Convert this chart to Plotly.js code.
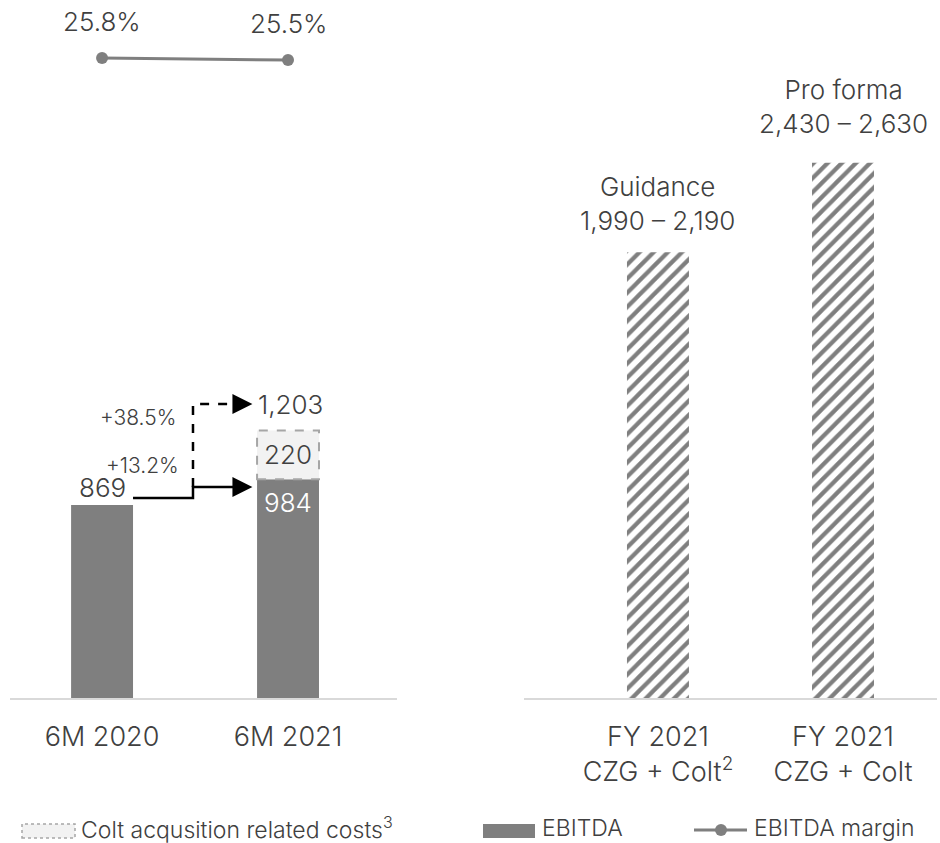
<!DOCTYPE html>
<html>
<head>
<meta charset="utf-8">
<script src="https://cdn.plot.ly/plotly-3.0.1.min.js"></script>
<style>
  html, body { margin: 0; padding: 0; background: #ffffff; }
  #chart { width: 940px; height: 843px; }
</style>
</head>
<body>
<div id="chart"></div>
<script>
// Half-year EBITDA
const halfYears = ['6M 2020', '6M 2021'];
const ebitda = [869, 984];
const coltCosts = [null, 220];
const adjustedEbitda = 1203;
const growthReported = 13.2;
const growthAdjusted = 38.5;
const marginPct = [25.8, 25.5];

// Full-year outlook
const fyCategories = ['FY 2021<br>CZG + Colt<sup>2</sup>', 'FY 2021<br>CZG + Colt'];
const fyNames = ['Guidance', 'Pro forma'];
const fyLow = [1990, 2430];
const fyHigh = [2190, 2630];

const W = 940, H = 843;
const FONT = 'Inter, "Open Sans", sans-serif';
const TEXT = '#404040';
const BAR = '#7f7f7f';
const fmt = v => v.toLocaleString('en-US');
const px = x => x / W;          // pixel -> paper x
const py = y => 1 - y / H;      // pixel -> paper y
const f = (size, color) => ({ family: FONT, size: size, color: color || TEXT, weight: 300 });

const barW = 0.333;

const traces = [
  {
    type: 'bar', name: 'EBITDA',
    x: halfYears, y: ebitda,
    xaxis: 'x', yaxis: 'y',
    width: barW,
    marker: { color: BAR },
    hoverinfo: 'skip'
  },
  {
    type: 'bar', name: 'Colt acqusition related costs',
    x: [halfYears[1]], y: [coltCosts[1]], base: [ebitda[1]],
    xaxis: 'x', yaxis: 'y',
    width: barW,
    marker: { color: '#f2f2f2' },
    hoverinfo: 'skip'
  },
  {
    type: 'bar', name: 'FY 2021',
    x: fyCategories, y: fyHigh,
    xaxis: 'x2', yaxis: 'y3',
    width: 0.335,
    marker: {
      color: '#ffffff',
      pattern: { shape: '/', fgcolor: BAR, bgcolor: '#ffffff', size: 10, solidity: 0.42 }
    },
    hoverinfo: 'skip'
  },
  {
    type: 'scatter', name: 'EBITDA margin',
    x: halfYears, y: marginPct,
    xaxis: 'x', yaxis: 'y2',
    mode: 'lines+markers',
    line: { color: BAR, width: 3 },
    marker: { color: BAR, size: 12 },
    cliponaxis: false,
    hoverinfo: 'skip'
  }
];

// connector levels (value units on the left axis)
const yStart = ebitda[0] + 31;
const yStep = ebitda[1] - 34;
const yDash = adjustedEbitda + 120;
const xStep = 0.489;
const xTip = 1 - barW / 2 - 0.025;

const shapes = [
  // dashed outline of the acquisition-cost segment
  {
    type: 'rect', xref: 'x', yref: 'y',
    x0: 1 - barW / 2, x1: 1 + barW / 2,
    y0: ebitda[1], y1: ebitda[1] + coltCosts[1],
    line: { color: '#a6a6a6', width: 2, dash: 'dash' },
    fillcolor: 'rgba(0,0,0,0)'
  },
  // reported growth connector
  {
    type: 'path', xref: 'x', yref: 'y',
    path: `M ${barW / 2} ${yStart} L ${xStep} ${yStart} L ${xStep} ${yStep} L ${xTip - 0.05} ${yStep}`,
    line: { color: '#000000', width: 2.5 }
  },
  // adjusted growth connector
  {
    type: 'path', xref: 'x', yref: 'y',
    path: `M ${xStep} ${yStep} L ${xStep} ${yDash} L ${xTip - 0.06} ${yDash}`,
    line: { color: '#000000', width: 2.5, dash: 'dash' }
  },
  // legend marks
  {
    type: 'rect', xref: 'paper', yref: 'paper',
    x0: px(22), x1: px(75), y0: py(838), y1: py(824),
    fillcolor: '#f2f2f2', line: { color: '#a6a6a6', width: 1.5, dash: 'dot' }
  },
  {
    type: 'rect', xref: 'paper', yref: 'paper',
    x0: px(483), x1: px(535), y0: py(838), y1: py(824),
    fillcolor: BAR, line: { width: 0 }
  },
  {
    type: 'line', xref: 'paper', yref: 'paper',
    x0: px(694), x1: px(747), y0: py(830), y1: py(830),
    line: { color: BAR, width: 3 }
  },
  {
    type: 'circle', xref: 'paper', yref: 'paper',
    x0: px(715), x1: px(727), y0: py(836), y1: py(824),
    fillcolor: BAR, line: { width: 0 }
  }
];

const ann = (o) => Object.assign({ showarrow: false, font: f(26) }, o);

const annotations = [
  ann({ xref: 'x', yref: 'y', x: halfYears[0], y: ebitda[0], yanchor: 'bottom', yshift: 0,
        text: fmt(ebitda[0]) }),
  ann({ xref: 'x', yref: 'y', x: halfYears[1], y: ebitda[1], yanchor: 'top', yshift: -6,
        text: fmt(ebitda[1]), font: f(26, '#ffffff') }),
  ann({ xref: 'x', yref: 'y', x: halfYears[1], y: ebitda[1] + coltCosts[1] / 2, yanchor: 'middle',
        text: fmt(coltCosts[1]) }),
  ann({ xref: 'x', yref: 'y', x: xTip + 0.02, y: yDash, xanchor: 'left', yanchor: 'middle',
        text: fmt(adjustedEbitda) }),
  ann({ xref: 'x', yref: 'y', x: 0.425, y: yStep + 95, xanchor: 'right', yanchor: 'middle',
        text: '+' + growthReported.toFixed(1) + '%', font: f(21) }),
  ann({ xref: 'x', yref: 'y', x: 0.41, y: yDash - 62, xanchor: 'right', yanchor: 'middle',
        text: '+' + growthAdjusted.toFixed(1) + '%', font: f(21) }),
  // arrow heads
  { xref: 'x', yref: 'y', x: xTip, y: yStep, ax: -18, ay: 0, text: '', showarrow: true,
    arrowhead: 2, arrowsize: 1.6, arrowwidth: 2.5, arrowcolor: '#000000', standoff: 0 },
  { xref: 'x', yref: 'y', x: xTip, y: yDash, ax: -18, ay: 0, text: '', showarrow: true,
    arrowhead: 2, arrowsize: 1.6, arrowwidth: 2.5, arrowcolor: '#000000', standoff: 0 },
  // legend labels
  ann({ xref: 'paper', yref: 'paper', x: px(79), y: py(828), xanchor: 'left', yanchor: 'middle',
        text: 'Colt acqusition related costs<sup>3</sup>', font: f(23) }),
  ann({ xref: 'paper', yref: 'paper', x: px(540), y: py(828), xanchor: 'left', yanchor: 'middle',
        text: 'EBITDA', font: f(23) }),
  ann({ xref: 'paper', yref: 'paper', x: px(752), y: py(828), xanchor: 'left', yanchor: 'middle',
        text: 'EBITDA margin', font: f(23) })
];

// margin labels above the line points
marginPct.forEach((v, i) => {
  annotations.push(ann({
    xref: 'x', yref: 'y2', x: halfYears[i], y: v,
    yanchor: 'middle', yshift: 37,
    text: v.toFixed(1) + '%'
  }));
});

// outlook range labels above the hatched bars
const fyShift = [14, 22];
fyNames.forEach((name, i) => {
  annotations.push(ann({
    xref: 'x2', yref: 'y3', x: fyCategories[i], y: fyHigh[i],
    yanchor: 'bottom', yshift: fyShift[i],
    text: name + '<br>' + fmt(fyLow[i]) + ' – ' + fmt(fyHigh[i])
  }));
});

const hidden = { showgrid: false, zeroline: false, showticklabels: false, showline: false, ticks: '' };
const baseY = 145 / H;

const layout = {
  width: W, height: H,
  margin: { l: 0, r: 0, t: 0, b: 0 },
  paper_bgcolor: '#ffffff',
  plot_bgcolor: 'rgba(0,0,0,0)',
  showlegend: false,
  barmode: 'overlay',
  font: { family: FONT, color: TEXT, weight: 300 },
  xaxis: {
    domain: [px(10), px(397)],
    type: 'category', range: [-0.495, 1.586],
    showline: true, linecolor: '#d9d9d9', linewidth: 1.5,
    showgrid: false, zeroline: false, ticks: '',
    ticklabelstandoff: 14,
    tickfont: f(27),
    anchor: 'y'
  },
  xaxis2: {
    domain: [px(524), px(937)],
    type: 'category', range: [-0.724, 1.508],
    showline: true, linecolor: '#d9d9d9', linewidth: 1.5,
    showgrid: false, zeroline: false, ticks: '',
    ticklabelstandoff: 14,
    tickfont: f(27),
    anchor: 'y3'
  },
  yaxis: Object.assign({ domain: [baseY, 1], range: [0, 698 / 0.2222], anchor: 'x' }, hidden),
  yaxis2: Object.assign({ overlaying: 'y', range: [-70.2, 34.5], anchor: 'x' }, hidden),
  yaxis3: Object.assign({ domain: [baseY, 1], range: [0, 698 / 0.2035], anchor: 'x2' }, hidden),
  shapes: shapes,
  annotations: annotations
};

Plotly.newPlot('chart', traces, layout, { staticPlot: true, displayModeBar: false });
</script>
</body>
</html>
